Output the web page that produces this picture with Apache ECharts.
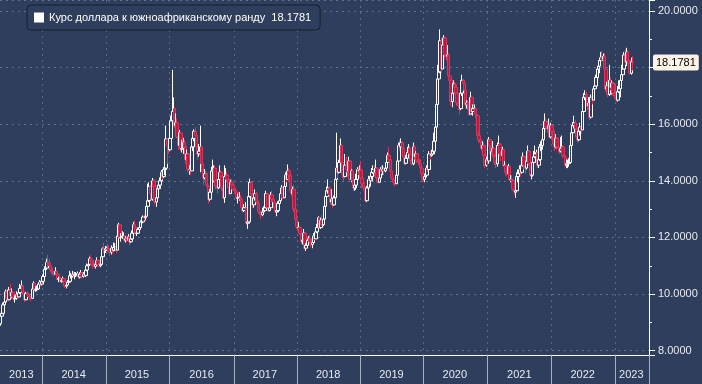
<!DOCTYPE html>
<html>
<head>
<meta charset="utf-8">
<script src="https://cdn.jsdelivr.net/npm/echarts@6/dist/echarts.min.js"></script>
<style>
html,body{margin:0;padding:0;background:#2f3e5c;}
#c{width:702px;height:384px;}
</style>
</head>
<body>
<div id="c"></div>
<script>
// ---- data (weekly candles, USD/ZAR) ----
const SERIES_NAME = 'Курс доллара к южноафриканскому ранду';
const LAST_VALUE = 18.1781;
const START_DATE = '2013-05-03';
const WEEKS = 533; // weekly category slots on the axis (incl. empty tail)
const YEAR_LABELS = ['2013','2014','2015','2016','2017','2018','2019','2020','2021','2022','2023'];
const Y_TICKS = [8, 10, 12, 14, 16, 18, 20];
const FIRST_OPEN = 8.95;

const CLOSE = [
9.22,9.32,9.62,9.72,10.08,9.88,9.80,10.15,9.93,10.05,9.90,9.83,9.85,9.98,9.90,10.05,10.20,10.30,10.08,9.98,9.80,10.02,9.98,9.92,9.88,9.85,10.18,10.38,10.15,10.18,10.18,10.35,10.42,10.35,10.45,
10.62,10.88,10.92,11.12,11.10,11.00,10.85,10.78,10.75,10.70,10.80,10.70,10.52,10.55,10.45,10.48,10.55,10.45,10.28,10.32,10.42,10.45,10.65,10.65,10.68,10.65,10.70,10.72,10.72,10.60,10.70,10.75,10.62,10.70,10.65,10.85,11.00,11.05,11.25,11.20,11.05,11.02,10.98,11.05,11.18,11.05,11.00,11.05,11.32,11.60,11.55,11.60,
11.62,11.58,11.55,11.48,11.62,11.55,11.65,11.68,11.55,12.05,12.45,12.00,12.00,12.05,12.05,11.90,11.95,11.92,12.02,11.85,11.95,12.15,12.45,12.35,12.15,12.15,12.28,12.35,12.55,12.55,12.72,12.70,12.75,13.10,13.30,13.80,13.55,13.35,14.00,13.80,13.25,13.40,13.72,13.85,14.00,14.30,14.15,14.40,14.45,15.48,15.25,15.10,
15.50,16.12,16.45,16.55,15.95,16.05,15.55,15.25,15.70,15.12,15.15,15.35,15.20,14.75,14.95,14.40,14.40,14.35,15.20,15.50,15.75,15.60,15.20,14.95,15.05,15.20,14.60,14.35,14.10,14.25,13.85,13.80,13.35,13.60,14.35,14.40,14.45,14.00,13.82,13.75,14.05,14.30,14.15,13.75,13.40,14.15,14.20,14.05,13.75,13.55,13.95,13.85,13.70,
13.65,13.60,13.40,13.40,13.40,13.35,13.05,12.95,13.05,13.05,12.50,12.55,13.45,13.95,13.50,13.15,13.40,13.55,13.25,13.20,12.90,12.85,12.80,12.90,12.95,13.05,13.55,13.05,12.95,13.05,13.50,13.35,13.25,13.05,12.90,12.95,13.20,13.30,13.55,13.75,13.40,13.80,14.20,14.05,14.35,14.20,13.65,13.55,13.70,13.00,12.65,12.38,
12.35,12.35,12.15,11.85,11.90,12.15,11.62,11.72,11.90,11.95,11.85,11.75,11.82,12.05,11.95,12.20,12.35,12.70,12.35,12.60,12.45,12.65,13.10,13.45,13.65,13.75,13.50,13.25,13.35,13.15,13.40,14.05,14.45,14.30,14.65,15.25,14.65,14.25,14.15,14.55,14.40,14.35,14.70,14.05,14.35,14.00,13.75,13.85,14.05,14.40,14.35,14.38,
14.10,13.90,13.75,13.65,13.30,13.75,14.05,14.00,14.15,14.30,14.40,14.30,14.45,14.10,13.95,14.10,14.40,14.35,14.40,14.35,14.45,14.65,14.90,14.75,14.35,14.10,14.05,13.95,13.90,14.20,14.70,15.25,15.20,15.35,15.15,14.85,14.62,14.80,15.00,15.15,14.95,14.72,14.60,15.20,14.85,14.95,14.70,14.65,14.60,14.45,14.25,14.05,
14.15,14.20,14.45,14.40,14.95,14.90,14.95,15.05,15.40,15.90,16.70,17.60,17.85,18.95,17.95,18.80,19.05,18.45,18.40,18.45,17.70,17.55,16.80,17.10,17.40,17.30,17.10,16.75,16.65,16.55,17.10,17.55,17.45,17.20,16.70,16.75,16.70,16.35,16.95,16.45,16.55,16.55,16.35,16.30,15.60,15.45,15.35,15.15,15.25,14.90,14.55,14.75,
14.70,15.45,15.25,15.05,15.15,14.85,14.65,14.60,15.25,15.30,14.95,14.90,15.10,14.55,14.55,14.30,14.25,14.50,14.05,14.05,14.00,13.70,13.60,13.65,14.15,14.25,14.40,14.30,14.55,14.85,14.55,14.45,14.70,15.05,14.60,14.20,14.20,14.65,14.85,14.95,15.00,14.55,14.75,15.20,15.25,15.45,15.85,16.10,15.90,15.85,15.95,15.55,15.95,
15.75,15.30,15.20,15.50,15.20,15.15,15.05,15.15,15.20,14.90,14.85,14.55,14.60,14.65,14.65,15.25,15.70,15.95,16.05,15.85,15.55,15.45,15.75,15.90,15.80,16.45,16.95,17.05,16.95,16.65,16.75,16.25,16.95,16.85,17.25,17.35,17.65,17.95,18.05,18.25,18.35,18.30,18.40,17.95,17.25,17.35,17.05,17.55,17.30,17.45,17.10,17.00,
16.95,16.85,17.15,17.25,17.55,17.75,17.95,18.45,18.20,18.55,18.25,18.15,17.80,18.20,18.1781
];

const HIGH = [
9.28,9.40,9.70,9.85,10.16,10.15,10.05,10.25,10.36,10.20,10.12,9.98,9.95,10.10,10.05,10.12,10.36,10.48,10.32,10.15,10.05,10.08,10.10,10.06,10.00,9.95,10.20,10.45,10.40,10.28,10.30,10.40,10.50,10.48,10.52,
10.70,10.98,11.10,11.25,11.39,11.25,11.05,10.90,10.92,10.82,10.95,10.82,10.75,10.62,10.60,10.55,10.62,10.58,10.48,10.40,10.50,10.60,10.82,10.75,10.82,10.80,10.78,10.78,10.80,10.75,10.78,10.85,10.78,10.78,10.75,10.92,11.08,11.15,11.32,11.38,11.28,11.15,11.10,11.12,11.30,11.22,11.12,11.10,11.38,11.65,11.82,11.70,
11.68,11.78,11.72,11.62,11.72,11.68,11.82,11.80,11.72,12.10,12.52,12.48,12.15,12.22,12.18,12.08,12.05,12.02,12.12,12.05,12.02,12.25,12.55,12.60,12.38,12.28,12.35,12.48,12.60,12.70,12.78,12.82,12.85,13.25,13.90,13.95,13.85,13.65,14.10,14.08,13.85,13.52,13.80,13.95,14.12,14.38,14.35,14.48,14.70,15.95,15.45,15.28,
15.60,16.30,17.92,16.95,16.60,16.38,16.20,15.70,15.80,15.72,15.45,15.52,15.45,15.25,15.10,14.95,14.55,14.55,15.25,15.62,15.82,15.90,15.65,15.25,15.30,15.95,15.10,14.88,14.40,14.42,14.30,13.95,13.85,13.72,14.50,14.75,14.55,14.55,14.05,13.95,14.12,14.55,14.38,14.20,13.90,14.55,14.45,14.32,14.05,13.80,14.05,14.05,13.90,
13.85,13.75,13.68,13.55,13.60,13.50,13.40,13.15,13.18,13.25,13.05,12.65,13.60,14.08,13.95,13.55,13.45,13.70,13.60,13.40,13.30,13.05,12.95,13.05,13.10,13.20,13.65,13.55,13.15,13.20,13.60,13.65,13.48,13.35,13.10,13.05,13.28,13.42,13.65,13.85,13.80,13.88,14.30,14.30,14.58,14.45,14.20,13.75,13.80,13.85,13.10,12.68,
12.48,12.55,12.40,12.20,12.00,12.30,12.10,11.80,11.95,12.05,12.10,11.98,11.88,12.15,12.18,12.28,12.48,12.75,12.68,12.70,12.80,12.72,13.20,13.55,13.80,14.05,13.80,13.55,13.70,13.40,13.48,14.30,15.70,14.60,14.75,15.50,15.30,14.70,14.40,14.95,14.85,14.48,14.85,14.72,14.42,14.40,14.10,13.95,14.25,14.48,14.50,14.55,
14.70,14.05,14.00,13.95,13.72,13.82,14.18,14.12,14.22,14.45,14.55,14.55,14.75,14.45,14.12,14.20,14.48,14.55,14.55,14.50,14.55,14.75,15.00,15.20,14.80,14.40,14.20,14.10,14.05,14.32,14.80,15.35,15.45,15.50,15.40,15.22,14.90,14.92,15.20,15.30,15.25,15.00,14.80,15.35,15.25,15.05,14.98,14.80,14.78,14.75,14.50,14.30,
14.25,14.45,14.55,14.55,15.05,15.05,15.10,15.25,15.70,16.05,16.95,18.10,18.45,19.35,19.05,18.95,19.15,19.10,18.80,18.80,18.50,17.85,17.60,17.45,17.55,17.50,17.45,17.15,16.90,16.75,17.20,17.75,17.60,17.55,17.20,16.85,16.85,16.75,17.15,16.95,16.70,16.70,16.60,16.50,16.20,15.75,15.55,15.40,15.40,15.35,14.95,14.85,
14.80,15.55,15.40,15.35,15.40,15.20,14.95,14.75,15.35,15.60,15.30,15.05,15.20,15.00,14.70,14.60,14.50,14.60,14.55,14.20,14.20,14.05,13.85,13.80,14.30,14.40,14.55,14.45,14.70,15.00,14.90,14.60,14.85,15.25,15.00,14.65,14.35,14.70,15.05,15.25,15.10,15.00,14.90,15.30,15.40,15.55,15.95,16.38,16.20,16.10,16.20,16.05,16.05,
16.00,15.75,15.40,15.65,15.55,15.30,15.20,15.55,15.60,15.25,15.00,14.85,14.75,14.75,14.80,15.35,15.95,16.08,16.30,16.15,15.90,15.75,15.85,16.05,16.05,16.55,17.10,17.20,17.15,17.00,16.95,16.80,17.05,17.05,17.35,17.55,17.75,18.05,18.25,18.35,18.55,18.60,18.50,18.50,18.10,17.50,17.35,18.10,17.65,17.55,17.50,17.25,
17.45,17.05,17.35,17.55,17.70,18.10,18.15,18.55,18.65,18.70,18.60,18.40,18.25,18.35,18.40
];

const LOW = [
8.88,9.10,9.30,9.50,9.68,9.80,9.75,9.78,9.88,9.85,9.85,9.78,9.70,9.80,9.85,9.88,10.00,10.15,10.05,9.95,9.72,9.78,9.90,9.88,9.80,9.75,9.84,10.15,10.10,10.08,10.10,10.15,10.30,10.28,10.30,
10.40,10.60,10.80,10.85,10.95,10.90,10.80,10.70,10.68,10.62,10.70,10.65,10.50,10.42,10.42,10.40,10.42,10.40,10.22,10.20,10.28,10.38,10.42,10.55,10.58,10.58,10.52,10.60,10.62,10.55,10.55,10.65,10.55,10.58,10.60,10.60,10.80,10.90,11.00,11.10,11.00,10.90,10.92,10.90,11.02,11.00,10.95,10.95,11.05,11.30,11.45,11.45,
11.52,11.50,11.45,11.35,11.40,11.42,11.50,11.52,11.45,11.55,12.00,11.95,11.85,11.95,11.95,11.85,11.82,11.85,11.85,11.72,11.80,11.92,12.10,12.30,12.10,12.05,12.12,12.22,12.30,12.45,12.50,12.60,12.60,12.75,13.00,13.25,13.48,13.30,13.30,13.72,13.15,13.08,13.30,13.55,13.75,13.98,14.05,14.10,14.20,14.40,14.60,14.95,
15.05,15.50,15.95,16.25,15.85,15.80,15.50,15.10,15.20,15.05,15.00,14.95,15.10,14.60,14.70,14.30,14.22,14.20,14.40,15.05,15.40,15.40,15.15,14.75,14.85,14.30,14.50,14.30,13.85,14.05,13.80,13.65,13.20,13.28,13.55,14.25,13.95,13.95,13.70,13.55,13.72,14.00,13.98,13.65,13.35,13.22,14.05,13.95,13.70,13.48,13.55,13.80,13.65,
13.55,13.50,13.35,13.20,13.30,13.25,12.95,12.88,12.90,12.98,12.45,12.30,12.55,13.40,13.30,13.05,13.05,13.30,13.20,13.15,12.85,12.80,12.65,12.75,12.80,12.90,13.10,12.95,12.90,12.92,13.00,13.25,13.05,12.98,12.85,12.75,12.90,13.10,13.28,13.50,13.35,13.40,13.75,13.95,14.05,14.00,13.60,13.45,13.50,12.90,12.55,12.30,
12.22,12.25,12.10,11.78,11.75,11.85,11.55,11.52,11.65,11.75,11.80,11.65,11.62,11.78,11.90,11.95,12.15,12.35,12.30,12.30,12.40,12.40,12.60,13.05,13.40,13.55,13.35,13.15,13.30,13.05,13.12,13.35,13.95,14.10,14.25,14.55,14.55,14.10,13.95,14.12,14.30,14.15,14.28,14.00,13.95,13.90,13.65,13.65,13.68,13.95,14.20,14.25,
13.95,13.75,13.70,13.60,13.25,13.25,13.70,13.88,13.80,14.05,14.25,14.15,14.25,14.00,13.90,13.92,14.05,14.25,14.20,14.20,14.30,14.42,14.55,14.70,14.30,14.05,13.95,13.85,13.80,13.88,14.15,14.65,15.05,15.10,15.05,14.75,14.55,14.58,14.78,14.95,14.85,14.65,14.55,14.55,14.75,14.75,14.65,14.55,14.50,14.30,14.18,13.95,
13.95,14.10,14.12,14.30,14.40,14.75,14.85,14.90,14.95,15.30,15.85,16.65,17.35,17.80,17.80,17.95,18.55,18.30,18.25,18.15,17.60,17.40,16.65,16.60,17.00,17.05,17.00,16.65,16.50,16.35,16.50,17.00,17.25,17.10,16.60,16.55,16.50,16.30,16.45,16.40,16.30,16.38,16.20,16.10,15.55,15.35,15.20,15.05,15.00,14.85,14.45,14.50,
14.50,14.60,14.95,14.90,14.90,14.80,14.55,14.45,14.50,15.05,14.85,14.70,14.85,14.50,14.35,14.20,14.15,14.20,14.00,13.95,13.92,13.65,13.50,13.40,13.60,13.95,14.15,14.15,14.25,14.50,14.40,14.25,14.40,14.65,14.55,14.15,14.05,14.15,14.55,14.80,14.80,14.45,14.45,14.70,15.05,15.10,15.40,15.80,15.75,15.70,15.80,15.50,15.50,
15.60,15.25,15.05,15.15,15.10,15.00,14.95,15.00,15.05,14.80,14.70,14.50,14.45,14.45,14.50,14.60,15.20,15.65,15.85,15.75,15.50,15.35,15.40,15.60,15.65,15.80,16.40,16.85,16.80,16.50,16.55,16.15,16.20,16.70,16.85,17.15,17.35,17.55,17.80,17.80,18.10,18.20,17.95,17.85,17.15,17.10,16.95,17.00,17.20,17.05,17.00,16.90,
16.90,16.80,16.80,17.10,16.95,17.45,17.60,17.95,18.10,18.05,18.15,18.05,17.75,17.75,17.90
];

// ---- build categories (weekly dates) and candle table ----
const t0 = Date.parse(START_DATE + 'T00:00:00Z');
const categories = [];
for (let i = 0; i < WEEKS; i++) {
  categories.push(new Date(t0 + i * 7 * 86400000).toISOString().slice(0, 10));
}
const candles = categories.map(function (d, i) {
  if (i >= CLOSE.length) return '-';
  const o = i === 0 ? FIRST_OPEN : CLOSE[i - 1];
  const c = CLOSE[i];
  return [o, c, Math.min(LOW[i], o, c), Math.max(HIGH[i], o, c)];
});

// year boundaries and label positions (middle of each year's span)
const yearStart = new Set();
const labelIdx = new Set();
let groupStart = 0;
for (let i = 1; i <= WEEKS; i++) {
  if (i === WEEKS || categories[i].slice(0, 4) !== categories[i - 1].slice(0, 4)) {
    const y = categories[i - 1].slice(0, 4);
    if (YEAR_LABELS.indexOf(y) >= 0) labelIdx.add(Math.floor((groupStart + i - 1) / 2));
    if (i < WEEKS) yearStart.add(i);
    groupStart = i;
  }
}

const BG = '#2f3e5c';
const FONT = '"Liberation Sans", Arial, sans-serif';

const chart = echarts.init(document.getElementById('c'), null, { renderer: 'canvas' });
chart.setOption({
  backgroundColor: BG,
  animation: false,
  textStyle: { fontFamily: FONT },
  legend: {
    left: 27, top: 5,
    padding: [7, 9, 7, 7],
    backgroundColor: BG,
    borderColor: '#161e30',
    borderWidth: 1,
    borderRadius: 4,
    itemWidth: 10, itemHeight: 10,
    selectedMode: false,
    data: [{ name: SERIES_NAME, icon: 'rect', itemStyle: { color: '#ffffff', borderWidth: 0 } }],
    formatter: function (n) { return n + '  ' + LAST_VALUE.toFixed(4); },
    textStyle: { color: '#ffffff', fontSize: 11, fontFamily: FONT }
  },
  grid: { left: 0, right: 53, top: 0, bottom: 29, containLabel: false },
  xAxis: {
    type: 'category',
    data: categories,
    boundaryGap: true,
    axisLine: { show: true, lineStyle: { color: '#ffffff', width: 1 } },
    axisTick: {
      show: true, length: 29,
      interval: function (i) { return yearStart.has(i); },
      lineStyle: { color: '#a9b1c0', width: 1 }
    },
    axisLabel: {
      interval: function (i) { return labelIdx.has(i); },
      formatter: function (v) { return v.slice(0, 4); },
      color: '#e6eaf0', fontSize: 11, margin: 14, fontFamily: FONT
    },
    splitLine: {
      show: true,
      interval: function (i) { return yearStart.has(i); },
      lineStyle: { color: '#5a6a87', type: [2, 4], width: 1 }
    }
  },
  yAxis: {
    type: 'value',
    position: 'right',
    min: 7.848, max: 20.388,
    splitNumber: 6,
    axisLine: { show: true, lineStyle: { color: '#ffffff', width: 1 } },
    axisTick: { show: true, length: 6, lineStyle: { color: '#ffffff' } },
    minorTick: { show: true, splitNumber: 2, length: 3, lineStyle: { color: '#ffffff' } },
    splitLine: { show: true, lineStyle: { color: '#62718d', type: [2, 4], width: 1 } },
    axisLabel: {
      color: '#e6eaf0', fontSize: 11, margin: 9, fontFamily: FONT,
      showMinLabel: false, showMaxLabel: false,
      formatter: function (v) {
        for (let k = 0; k < Y_TICKS.length; k++) {
          if (Math.abs(v - Y_TICKS[k]) < 1e-6 && Math.abs(v - 18) > 1e-6) return v.toFixed(4);
        }
        return '';
      }
    }
  },
  series: [{
    name: SERIES_NAME,
    type: 'candlestick',
    data: candles,
    barWidth: 3,
    clip: false,
    itemStyle: {
      color: BG,
      color0: '#c3163f',
      borderColor: '#ffffff',
      borderColor0: '#d4385c',
      borderWidth: 1
    },
    markLine: {
      silent: true,
      symbol: 'none',
      animation: false,
      lineStyle: { color: 'rgba(0,0,0,0)', width: 1, type: 'solid' },
      data: [{ yAxis: LAST_VALUE }],
      label: {
        show: true,
        position: 'end',
        distance: 4,
        formatter: function () { return LAST_VALUE.toFixed(4); },
        color: '#000000',
        backgroundColor: '#fdf3e7',
        borderRadius: 2,
        padding: [3, 3, 2, 3],
        fontSize: 11,
        fontFamily: FONT
      }
    }
  }]
});
</script>
</body>
</html>
